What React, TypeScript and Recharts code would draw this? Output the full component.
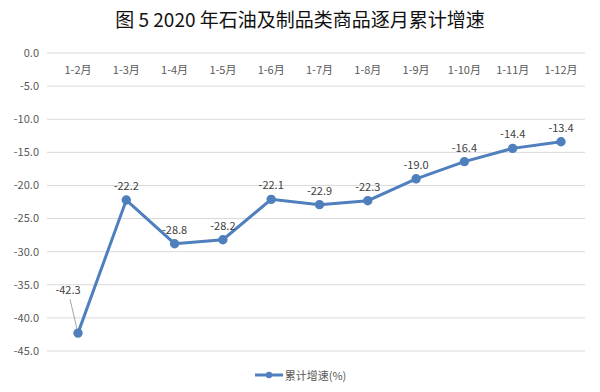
import { LineChart, Line, XAxis, YAxis, CartesianGrid, Legend, LabelList } from "recharts"

const months = ["1-2月", "1-3月", "1-4月", "1-5月", "1-6月", "1-7月", "1-8月", "1-9月", "1-10月", "1-11月", "1-12月"]
const growth = [-42.3, -22.2, -28.8, -28.2, -22.1, -22.9, -22.3, -19.0, -16.4, -14.4, -13.4]
const yTicks = [0, -5, -10, -15, -20, -25, -30, -35, -40, -45]

const data = months.map((m, i) => ({ m, v: growth[i] }))

const FONT = "'Noto Sans CJK SC', 'Noto Sans', sans-serif"
const BLUE = "#4f7fbd"

function CatTick(props: any) {
  const { x, payload } = props
  return (
    <text x={x} y={74} textAnchor="middle" fontSize={11} fill="#595959" fontFamily={FONT}>
      {payload.value}
    </text>
  )
}

function PointLabel(props: any) {
  const { x, y, value, index } = props
  if (index === 0) {
    return (
      <g>
        <line x1={x - 8} y1={y - 34} x2={x - 1} y2={y - 4} stroke="#a6a6a6" strokeWidth={1} />
        <text x={x - 10} y={y - 39} textAnchor="middle" fontSize={11} fill="#404040" fontFamily={FONT}>
          {value.toFixed(1)}
        </text>
      </g>
    )
  }
  return (
    <text x={x} y={y - 10} textAnchor="middle" fontSize={11} fill="#404040" fontFamily={FONT}>
      {value.toFixed(1)}
    </text>
  )
}

function LegendContent() {
  return (
    <div style={{ display: "flex", justifyContent: "center", alignItems: "center", fontFamily: FONT, fontSize: 11, color: "#595959", paddingLeft: 16 }}>
      <svg width={28} height={10} style={{ marginRight: 2 }}>
        <line x1={0} y1={5} x2={28} y2={5} stroke={BLUE} strokeWidth={3} />
        <circle cx={14} cy={5} r={3.2} fill={BLUE} />
      </svg>
      <span>累计增速(%)</span>
    </div>
  )
}

export default function App() {
  return (
    <div style={{ position: "absolute", left: 0, top: 0, width: 600, height: 392, background: "#fff" }}>
      <div
        style={{
          position: "absolute",
          top: 5,
          left: 0,
          width: 600,
          textAlign: "center",
          fontFamily: FONT,
          fontSize: 19,
          fontWeight: 400,
          color: "#111",
        }}
      >
        图 5 2020 年石油及制品类商品逐月累计增速
      </div>
      <LineChart width={600} height={392} data={data} margin={{ top: 52, right: 15, bottom: 21, left: 0 }}>
        <CartesianGrid vertical={false} stroke="#d9d9d9" strokeWidth={1} />
        <XAxis
          dataKey="m"
          orientation="top"
          height={1}
          axisLine={false}
          tickLine={false}
          tick={<CatTick />}
          padding={{ left: 31, right: 24 }}
          interval={0}
        />
        <YAxis
          domain={[-45, 0]}
          ticks={yTicks}
          width={47}
          axisLine={false}
          tickLine={false}
          tickFormatter={(v: number) => v.toFixed(1)}
          tick={{ fontSize: 11, fill: "#595959", fontFamily: FONT }}
          interval={0}
        />
        <Line
          type="linear"
          dataKey="v"
          stroke={BLUE}
          strokeWidth={3}
          dot={{ r: 3.2, fill: BLUE, stroke: BLUE }}
          isAnimationActive={false}
          name="累计增速(%)"
        >
          <LabelList dataKey="v" content={<PointLabel />} />
        </Line>
        <Legend verticalAlign="bottom" height={20} content={<LegendContent />} wrapperStyle={{ top: 367 }} />
      </LineChart>
    </div>
  )
}
